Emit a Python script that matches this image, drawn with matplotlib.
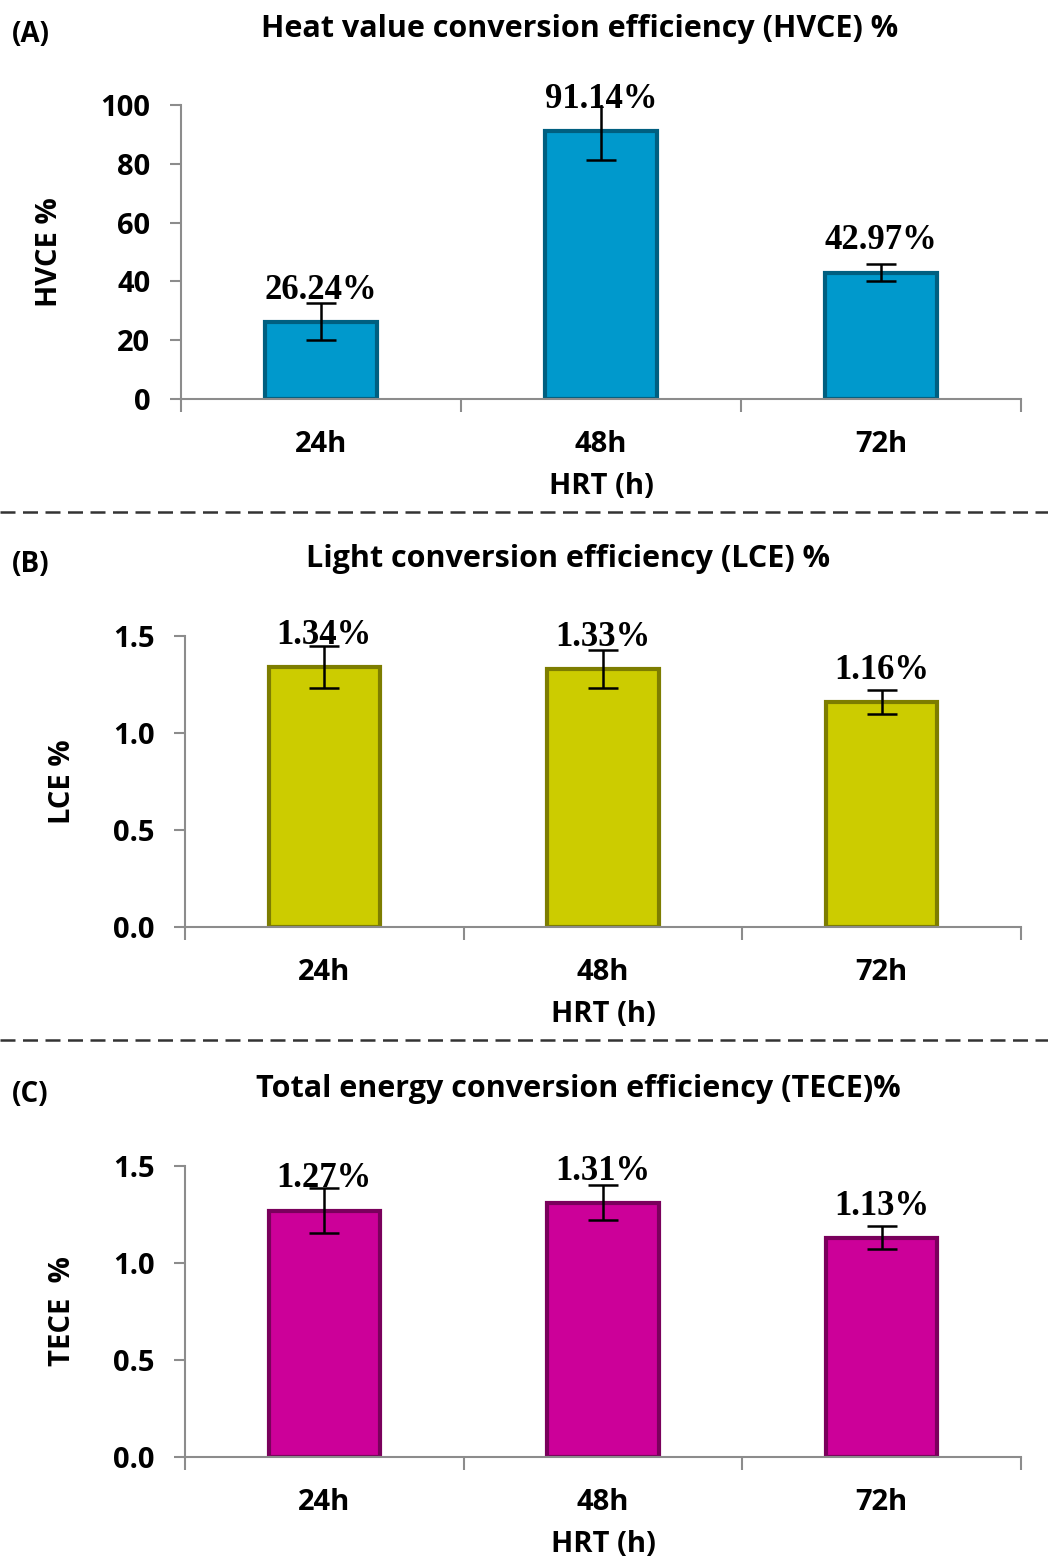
import matplotlib.pyplot as plt
from matplotlib.lines import Line2D

# data
hrt = ["24h", "48h", "72h"]
hvce = [26.24, 91.14, 42.97]
hvce_err = [6.3, 10.0, 3.0]
lce = [1.34, 1.33, 1.16]
lce_err = [0.11, 0.10, 0.06]
tece = [1.27, 1.31, 1.13]
tece_err = [0.115, 0.09, 0.06]

W, H = 1048, 1559
fig = plt.figure(figsize=(W / 100, H / 100), dpi=100)

title_font = "Open Sans"
val_font = "Liberation Serif"
gray = "#8c8c8c"
fs = 21


def panel(rect, vals, errs, color, edge, ylim, yticks, fmt, ylabel):
    ax = fig.add_axes(rect)
    x = range(len(vals))
    ax.bar(x, vals, width=0.4, color=color, edgecolor=edge, linewidth=3, zorder=2)
    ax.errorbar(x, vals, yerr=errs, fmt="none", ecolor="black",
                elinewidth=1.8, capsize=11, capthick=1.8, zorder=3)
    for xi, v, e in zip(x, vals, errs):
        ax.text(xi, v + ylim[1] * 0.052, f"{v:.2f}%", ha="center", va="bottom",
                fontfamily=val_font, fontweight="bold", fontsize=25, zorder=4)
    ax.set_xlim(-0.5, len(vals) - 0.5)
    ax.set_ylim(*ylim)
    ax.set_yticks(yticks)
    ax.set_yticklabels([fmt.format(t) for t in yticks], fontfamily=title_font,
                       fontweight="bold", fontsize=fs)
    ax.set_xticks([-0.5, 0.5, 1.5, 2.5])
    ax.set_xticklabels([])
    ax.set_xticks(list(x), minor=True)
    ax.set_xticklabels(hrt, minor=True, fontfamily=title_font,
                       fontweight="bold", fontsize=fs)
    ax.tick_params(axis="x", which="minor", length=0, pad=22)
    ax.tick_params(axis="x", which="major", length=9, color=gray, width=1.5)
    ax.tick_params(axis="y", length=8, color=gray, width=1.5, pad=14)
    for s in ["top", "right"]:
        ax.spines[s].set_visible(False)
    for s in ["left", "bottom"]:
        ax.spines[s].set_color(gray)
        ax.spines[s].set_linewidth(1.5)
    ax.set_xlabel("HRT (h)", fontfamily=title_font, fontweight="bold",
                  fontsize=fs, labelpad=10)
    ax.set_ylabel(ylabel, fontfamily=title_font, fontweight="bold",
                  fontsize=fs, labelpad=26)
    return ax


panel([181 / W, 1 - 399 / H, 840 / W, 294 / H], hvce, hvce_err, "#0099cc", "#005f80",
      (0, 100), [0, 20, 40, 60, 80, 100], "{:.0f}", "HVCE %")
panel([185 / W, 1 - 927 / H, 836 / W, 291 / H], lce, lce_err, "#cccc00", "#7d7d00",
      (0, 1.5), [0.0, 0.5, 1.0, 1.5], "{:.1f}", "LCE %")
panel([185 / W, 1 - 1457 / H, 836 / W, 291 / H], tece, tece_err, "#cc0099", "#7a005c",
      (0, 1.5), [0.0, 0.5, 1.0, 1.5], "{:.1f}", "TECE  %")

# titles and panel letters
titles = [
    ("(A)", "Heat value conversion efficiency (HVCE) %", 29, 580),
    ("(B)", "Light conversion efficiency (LCE) %", 559, 568),
    ("(C)", "Total energy conversion efficiency (TECE)%", 1089, 578),
]
for letter, t, y, xc in titles:
    fig.text(xc / W, 1 - y / H, t, ha="center", va="center", fontfamily=title_font,
             fontweight="bold", fontsize=22)
    fig.text(12 / W, 1 - (y + 5) / H, letter, ha="left", va="center",
             fontfamily=title_font, fontweight="bold", fontsize=20)

# dashed separators
for y in [512, 1040]:
    fig.add_artist(Line2D([0, 1], [1 - y / H, 1 - y / H], transform=fig.transFigure,
                          color="#333333", linewidth=1.8, linestyle=(0, (6, 3))))

fig.savefig("out.png", dpi=100)
